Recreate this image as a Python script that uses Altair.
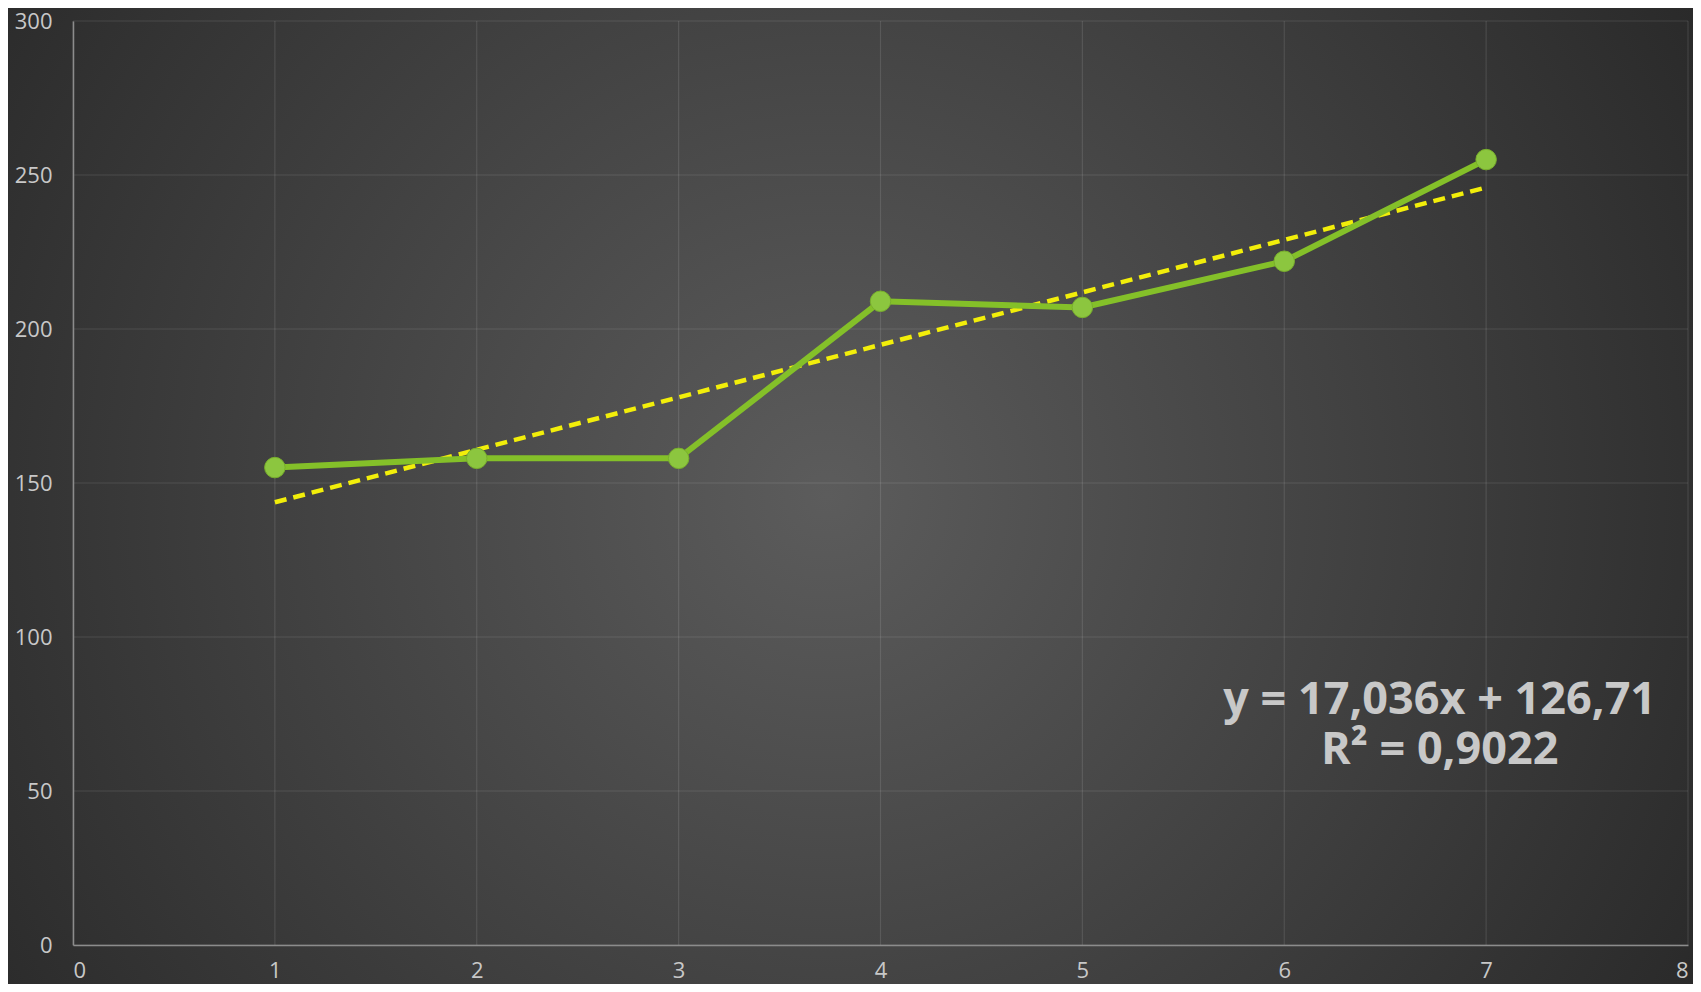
import altair as alt
import pandas as pd

# ---- data ----
x_vals = [1, 2, 3, 4, 5, 6, 7]
y_vals = [155, 158, 158, 209, 207, 222, 255]
x_ticks = [0, 1, 2, 3, 4, 5, 6, 7, 8]
y_ticks = [0, 50, 100, 150, 200, 250, 300]
eq_line1 = "y = 17,036x + 126,71"
eq_line2 = "R² = 0,9022"

W, H = 1615, 924
PAD = {"left": 65, "top": 13, "right": 5, "bottom": 39}
FONT = "Open Sans"
LABEL_COLOR = "#c8c8c8"

df = pd.DataFrame({"x": x_vals, "y": y_vals})
one = pd.DataFrame({"k": [0]})

xscale = alt.Scale(domain=[0, 8], nice=False, zero=False)
yscale = alt.Scale(domain=[0, 300], nice=False)

xaxis = alt.Axis(values=x_ticks, grid=False, ticks=False, labelPadding=15,
                 domainColor="#8c8c8c", domainWidth=1.5, labelColor=LABEL_COLOR,
                 labelFontSize=22, labelFont=FONT, zindex=1, title=None, format="d")
yaxis = alt.Axis(values=y_ticks, grid=False, ticks=False, labelPadding=21,
                 domainColor="#8c8c8c", domainWidth=1.5, labelColor=LABEL_COLOR,
                 labelFontSize=22, labelFont=FONT, zindex=1, title=None, format="d")

bg = alt.Chart(one).mark_rect(
    fill=alt.RadialGradient(
        gradient="radial",
        stops=[alt.GradientStop(color="#5c5c5c", offset=0),
               alt.GradientStop(color="#2a2a2a", offset=1)],
        x1=0.486, y1=0.5, r1=0, x2=0.486, y2=0.5, r2=0.59,
    )
).encode(
    x=alt.value(-PAD["left"]), x2=alt.value(W + PAD["right"]),
    y=alt.value(-PAD["top"]), y2=alt.value(H + PAD["bottom"]),
)

vgrid = alt.Chart(pd.DataFrame({"t": x_ticks})).mark_rule(
    color="white", opacity=0.11, strokeWidth=1.2
).encode(x=alt.X("t:Q", scale=xscale, axis=xaxis))

hgrid = alt.Chart(pd.DataFrame({"t": y_ticks})).mark_rule(
    color="white", opacity=0.11, strokeWidth=1.2
).encode(y=alt.Y("t:Q", scale=yscale, axis=yaxis))

trend = alt.Chart(df).transform_regression("x", "y").mark_line(
    color="#f2ee0a", strokeWidth=4.5, strokeDash=[12, 7]
).encode(
    x=alt.X("x:Q", scale=xscale, axis=xaxis),
    y=alt.Y("y:Q", scale=yscale, axis=yaxis),
)

line = alt.Chart(df).mark_line(color="#84c029", strokeWidth=6).encode(
    x=alt.X("x:Q", scale=xscale, axis=xaxis),
    y=alt.Y("y:Q", scale=yscale, axis=yaxis),
)

points = alt.Chart(df).mark_circle(
    size=420, color="#8cc63f", opacity=1, stroke="#79b02c", strokeWidth=1
).encode(
    x=alt.X("x:Q", scale=xscale, axis=xaxis),
    y=alt.Y("y:Q", scale=yscale, axis=yaxis),
)

text_style = dict(fontSize=45, fontWeight="bold", font=FONT, color=LABEL_COLOR,
                  align="center", baseline="middle")
eq1 = alt.Chart(one).mark_text(text=eq_line1, **text_style).encode(
    x=alt.datum(6.77), y=alt.datum(79.5))
eq2 = alt.Chart(one).mark_text(text=eq_line2, **text_style).encode(
    x=alt.datum(6.77), y=alt.datum(63.3))

chart = alt.layer(bg, vgrid, hgrid, trend, line, points, eq1, eq2).properties(
    width=W, height=H, padding=PAD,
    autosize=alt.AutoSizeParams(type="none"),
    background="#2b2b2b",
).configure_view(strokeWidth=0)

chart.save("out.html", embed_options={"renderer": "svg", "actions": False})
